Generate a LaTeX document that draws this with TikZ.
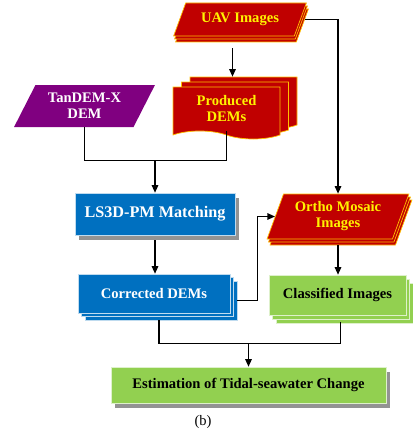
\documentclass[tikz,border=0pt]{standalone}
\usepackage{fontspec}
\setmainfont{Liberation Serif}
\usepackage{tikz}
\usetikzlibrary{calc}
\usetikzlibrary{shapes.geometric}
\usetikzlibrary{shapes.symbols}
\usetikzlibrary{shadows}
\usetikzlibrary{arrows.meta}
\definecolor{uavred}{HTML}{C00000}
\definecolor{rimorange}{HTML}{FFC000}
\definecolor{demblue}{HTML}{0070C0}
\definecolor{clsgreen}{HTML}{92D050}
\definecolor{tanpurple}{HTML}{800080}

\begin{document}
\begin{tikzpicture}[x=1pt, y=-1pt,
    txt/.style={font=\bfseries\fontsize{14.6}{16}\selectfont, align=center, inner sep=0pt},
    slanted/.style={txt, trapezium, trapezium stretches=true, trapezium left angle=#1, trapezium right angle=180-#1},
    redstack/.style={fill=uavred, draw=rimorange, line width=0.7pt, text=yellow},
    bluebox/.style={txt, rectangle, fill=demblue, draw=white!75!demblue, line width=0.6pt, text=white},
    greenbox/.style={txt, rectangle, fill=clsgreen, draw=white!70!clsgreen, line width=0.6pt, text=black},
    grayshadow/.style={general shadow={fill=gray!85, shadow xshift=4pt, shadow yshift=-5pt}},
    link/.style={line width=1.2pt, -{Triangle[length=7.5pt,width=6.5pt]}},
    line/.style={line width=1.2pt}]
\useasboundingbox (0,0) rectangle (412,436);
% inputs
\node[slanted=56, redstack, minimum width=134, minimum height=33,
    double copy shadow={shadow xshift=1pt, shadow yshift=-3pt}] (uav) at (240,19.5) {UAV Images};
\node[txt, tape, tape bend top=none, tape bend bottom=out and in, tape bend height=8pt, redstack,
    minimum width=107, minimum height=52,
    double copy shadow={shadow xshift=8.5pt, shadow yshift=5pt}] (prod) at (226.5,109) {Produced\\DEMs};
\node[slanted=58, fill=tanpurple, text=white, minimum width=141, minimum height=42] (tan) at (84.5,106) {TanDEM-X\\DEM};
\node[slanted=66, redstack, minimum width=142, minimum height=45,
    double copy shadow={shadow xshift=1.5pt, shadow yshift=-3pt}] (ortho) at (338,216.5) {Ortho Mosaic\\Images};
% processing boxes
\node[bluebox, grayshadow, minimum width=160, minimum height=42, font=\bfseries\fontsize{16.2}{18}\selectfont] (lsd) at (155,214) {LS3D-PM Matching};
\node[bluebox, minimum width=152, minimum height=39,
    double copy shadow={shadow xshift=3.5pt, shadow yshift=-3.5pt}] (cor) at (154,293.5) {Corrected DEMs};
\node[greenbox, minimum width=137, minimum height=40,
    double copy shadow={shadow xshift=3.5pt, shadow yshift=-4pt}] (cls) at (337.5,295) {Classified Images};
\node[greenbox, grayshadow, minimum width=275, minimum height=36] (est) at (248.5,385) {Estimation of Tidal-seawater Change};
\node[font=\fontsize{14.5}{16}\selectfont, inner sep=0pt] (cap) at (203,422) {(b)};
% connectors
\coordinate (p1) at ([xshift=6pt]prod.north);
\draw[link] ($(uav.south -| p1)+(0,12)$) -- ([yshift=10pt]p1);
\draw[link] ($(uav.east)+(4,0)$) -| (ortho.north);
\coordinate (j1) at ($(lsd.north)+(0,-32)$);
\draw[line] (tan.south) |- (j1) -| (prod.south);
\draw[link] (j1) -- (lsd.north);
\draw[link] ($(lsd.south)+(0,5)$) -- (lsd.south |- cor.north);
\draw[link] ($(cor.east)+(7,7)$) -- ++(20,0) |- (ortho.west);
\draw[link] ($(ortho.south)+(0,6)$) -- (ortho.south |- cls.north);
\coordinate (j2) at ($(est.north)+(0,-23)$);
\draw[line] ($(cor.south)+(5,7)$) |- (j2) -| ($(cls.south)+(3,7)$);
\draw[link] (j2) -- (est.north);
\end{tikzpicture}
\end{document}
